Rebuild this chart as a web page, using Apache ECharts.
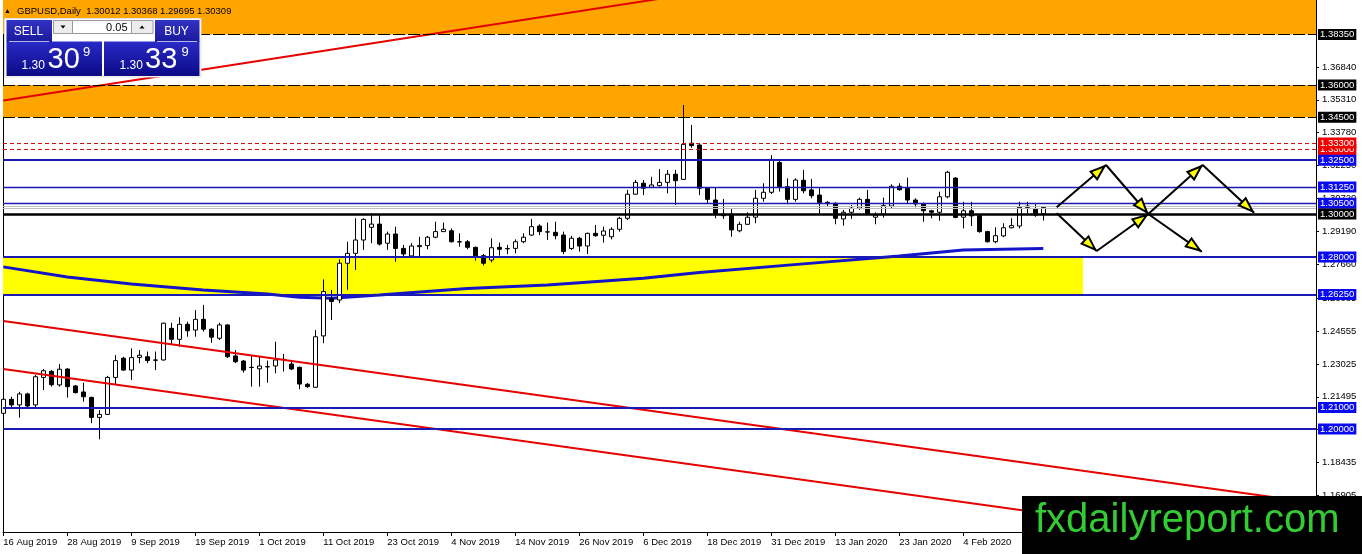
<!DOCTYPE html>
<html><head><meta charset="utf-8">
<script src="https://cdn.jsdelivr.net/npm/echarts@6/dist/echarts.min.js"></script>
<style>html,body{margin:0;padding:0;background:#fff;}#c{width:1362px;height:554px;}</style>
</head><body><div id="c"></div><script>
// ---- data ----
const symbolName = 'GBPUSD,Daily';
const opens = [1.2073,1.2138,1.2112,1.2163,1.2112,1.2240,1.2268,1.2205,1.2279,1.2200,
1.2172,1.2147,1.2054,1.2068,1.2240,1.2329,1.2274,1.2333,1.2336,1.2321,
1.2321,1.2468,1.2417,1.2487,1.2460,1.2510,1.2464,1.2422,1.2484,1.2340,
1.2316,1.2287,1.2280,1.2290,1.2293,1.2324,1.2302,1.2287,1.2208,1.2194,
1.2433,1.2605,1.2600,1.2771,1.2817,1.2879,1.2938,1.2953,1.2864,1.2907,
1.2840,1.2805,1.2848,1.2853,1.2892,1.2918,1.2922,1.2871,1.2871,1.2845,
1.2806,1.2786,1.2845,1.2839,1.2840,1.2871,1.2902,1.2944,1.2916,1.2915,
1.2902,1.2840,1.2887,1.2851,1.2910,1.2901,1.2894,1.2929,1.2980,1.3092,
1.3143,1.3124,1.3132,1.3147,1.3185,1.3161,1.3329,1.3321,1.3120,1.3065,
1.2999,1.2999,1.2922,1.2952,1.2985,1.3073,1.3101,1.3239,1.3127,1.3068,
1.3157,1.3112,1.3088,1.3054,1.3050,1.2977,1.3008,1.3027,1.3068,1.2985,
1.2999,1.3037,1.3129,1.3120,1.3065,1.3045,1.3015,1.3008,1.3080,1.3167,
1.2985,1.3015,1.2992,1.2918,1.2871,1.2898,1.2936,1.2944,1.3037,1.3022,
1.30012];
const highs = [1.2166,1.2150,1.2173,1.2169,1.2251,1.2279,1.2274,1.2302,1.2282,1.2205,
1.2215,1.2150,1.2088,1.2247,1.2344,1.2336,1.2375,1.2367,1.2360,1.2360,
1.2494,1.2494,1.2520,1.2499,1.2553,1.2577,1.2468,1.2494,1.2487,1.2367,
1.2321,1.2344,1.2336,1.2318,1.2406,1.2349,1.2313,1.2290,1.2214,1.2460,
1.2696,1.2647,1.2789,1.2871,1.2980,1.2980,1.3003,1.2995,1.2918,1.2941,
1.2856,1.2864,1.2894,1.2898,1.2964,1.2960,1.2933,1.2910,1.2879,1.2848,
1.2814,1.2887,1.2867,1.2856,1.2882,1.2910,1.2977,1.2952,1.2960,1.2964,
1.2918,1.2898,1.2894,1.2913,1.2949,1.2941,1.2938,1.2987,1.3112,1.3158,
1.3158,1.3173,1.3209,1.3205,1.3205,1.3507,1.3414,1.3324,1.3122,1.3122,
1.3070,1.3023,1.2964,1.3008,1.3112,1.3143,1.3274,1.3247,1.3166,1.3166,
1.3205,1.3163,1.3120,1.3060,1.3054,1.3019,1.3042,1.3076,1.3112,1.3008,
1.3076,1.3138,1.3143,1.3169,1.3073,1.3053,1.3019,1.3104,1.3201,1.3171,
1.3057,1.3057,1.2995,1.2922,1.2938,1.2957,1.2980,1.3057,1.3057,1.3045,
1.30368];
const lows = [1.2070,1.2096,1.2053,1.2101,1.2101,1.2181,1.2197,1.2197,1.2146,1.2166,
1.2127,1.2027,1.1952,1.2065,1.2205,1.2271,1.2228,1.2306,1.2306,1.2274,
1.2318,1.2391,1.2383,1.2429,1.2429,1.2453,1.2401,1.2414,1.2330,1.2306,
1.2262,1.2197,1.2197,1.2215,1.2259,1.2267,1.2274,1.2185,1.2191,1.2191,
1.2399,1.2507,1.2585,1.2647,1.2740,1.2833,1.2864,1.2853,1.2833,1.2778,
1.2801,1.2801,1.2801,1.2836,1.2887,1.2916,1.2867,1.2848,1.2836,1.2783,
1.2760,1.2775,1.2806,1.2813,1.2817,1.2864,1.2898,1.2902,1.2879,1.2882,
1.2813,1.2833,1.2825,1.2814,1.2894,1.2867,1.2882,1.2918,1.2972,1.3090,
1.3088,1.3120,1.3127,1.3096,1.3042,1.3158,1.3308,1.3088,1.3050,1.2980,
1.2977,1.2894,1.2915,1.2949,1.2957,1.3057,1.3093,1.3104,1.3045,1.3057,
1.3096,1.3073,1.2999,1.3034,1.2952,1.2946,1.2977,1.3019,1.2995,1.2952,
1.2983,1.3023,1.3108,1.3047,1.3031,1.2964,1.2980,1.2969,1.3073,1.2980,
1.2933,1.2944,1.2913,1.2867,1.2864,1.2892,1.2933,1.2933,1.3003,1.2987,
1.29695];
const closes = [1.2138,1.2112,1.2163,1.2107,1.2243,1.2271,1.2206,1.2278,1.2197,1.2169,
1.2150,1.2054,1.2068,1.2240,1.2318,1.2274,1.2332,1.2343,1.2318,1.2320,
1.2492,1.2417,1.2487,1.2457,1.2510,1.2464,1.2427,1.2484,1.2336,1.2313,
1.2274,1.2286,1.2293,1.2289,1.2321,1.2323,1.2279,1.2209,1.2197,1.2429,
1.2639,1.2593,1.2771,1.2817,1.2879,1.2975,1.2953,1.2860,1.2907,1.2840,
1.2814,1.2851,1.2853,1.2892,1.2918,1.2929,1.2871,1.2870,1.2845,1.2806,
1.2771,1.2843,1.2836,1.2838,1.2871,1.2892,1.2941,1.2918,1.2917,1.2899,
1.2825,1.2887,1.2851,1.2910,1.2899,1.2921,1.2929,1.2980,1.3092,1.3147,
1.3120,1.3135,1.3147,1.3185,1.3155,1.3324,1.3318,1.3120,1.3068,1.2999,
1.2992,1.2926,1.2952,1.2985,1.3073,1.3101,1.3254,1.3127,1.3068,1.3158,
1.3108,1.3085,1.3053,1.3048,1.2980,1.3008,1.3027,1.3068,1.2999,1.2995,
1.3039,1.3129,1.3113,1.3065,1.3047,1.3015,1.3008,1.3080,1.3194,1.2984,
1.3015,1.2991,1.2918,1.2871,1.2899,1.2936,1.2946,1.3031,1.3031,1.2995,
1.30309];
// moving average read at selected bars
const maIndex = [0,8,16,25,33,37,41,47,58,68,80,87,100,112,120,130];
const maValue = [1.2754,1.2707,1.2674,1.2647,1.2628,1.2613,1.2608,1.2623,1.2654,1.2670,1.2701,1.2728,1.2768,1.2805,1.2833,1.2839];
// x axis date labels (every 8th bar)
const xTickIdx = [0,8,16,24,32,40,48,56,64,72,80,88,96,104,112,120,128];
const xTickLabels = ['16 Aug 2019','28 Aug 2019','9 Sep 2019','19 Sep 2019','1 Oct 2019','11 Oct 2019','23 Oct 2019','4 Nov 2019','14 Nov 2019','26 Nov 2019','6 Dec 2019','18 Dec 2019','31 Dec 2019','13 Jan 2020','23 Jan 2020','4 Feb 2020','14 Feb 2020'];
// price axis tick labels
const yTickValues = [1.3684,1.3531,1.3378,1.3225,1.3072,1.2919,1.2766,1.26085,1.24555,1.23025,1.21495,1.19965,1.18435,1.16905];
// horizontal levels
const blackDashedLevels = [1.3835,1.3600,1.3450];
const redDottedLevels = [1.3300,1.3330];
const blueThickLevels = [1.3250,1.2800,1.2625,1.2100,1.2000];
const blueThinLevels = [1.3125,1.3050];
const blackLevel = 1.3000;
const bidLines = [1.3034,1.3027];
// zones
const orangeZones = [[1.3835,1.39953],[1.3450,1.3600]];
const yellowZone = [1.2625,1.2800];
const yellowZoneEndIdx = 134.96;
// trend lines [index, price]
const trendLines = [
  [[0,1.35279],[82,1.40009]],
  [[0,1.25021],[164,1.16563]],
  [[0,1.22789],[164,1.14330]]
];
// projected arrows [x0, p0, x1, p1]
const arrowSegments = [
  [131.675,1.30312,137.84,1.32279],
  [137.84,1.32279,143.125,1.30000],
  [143.125,1.30000,149.925,1.32279],
  [149.925,1.32279,156.34,1.30060],
  [131.675,1.30033,136.675,1.28279],
  [136.675,1.28279,143.125,1.30000],
  [143.125,1.30000,149.8,1.28247]
];

// ---- chart ----
const yMin = 1.15209, yMax = 1.39953;
const xMin = -0.0375, xMax = 164.0875;
const FONT = '"Liberation Sans", Arial, sans-serif';

const candleData = opens.map((o,i)=>[i,o,closes[i],lows[i],highs[i]]);
const maData = maIndex.map((x,k)=>[x,maValue[k]]);

function lvl(v, lineStyle, bg){
  const item = {yAxis:v, lineStyle:lineStyle};
  if (bg) item.label = {show:true, position:'end', distance:2, formatter:v.toFixed(5), color:'#fff',
    backgroundColor:bg, padding:[1,2,0,2], lineHeight:10, fontSize:9.5, fontFamily:FONT};
  else item.label = {show:false};
  return item;
}
const BLUE_LINE = '#1a1ab4', BLUE_BG = '#0a0af0';
const levelData = [];
bidLines.forEach(v=>levelData.push(lvl(v,{color:'#c0c0c0',width:1,type:'solid'},null)));
blackDashedLevels.forEach(v=>levelData.push(lvl(v,{color:'#000',width:1,type:[12,3]},'#000')));
redDottedLevels.forEach(v=>levelData.push(lvl(v,{color:'#d01010',width:1.2,type:[4,3]},'#ee0000')));
blueThinLevels.forEach(v=>levelData.push(lvl(v,{color:BLUE_LINE,width:1.3,type:'solid'},BLUE_BG)));
blueThickLevels.forEach(v=>levelData.push(lvl(v,{color:BLUE_LINE,width:2,type:'solid'},BLUE_BG)));
levelData.push(lvl(blackLevel,{color:'#000',width:2.5,type:'solid'},'#000'));

const series = [
  { name:'zones', type:'line', data:[], silent:true,
    markArea:{ silent:true, z:1,
      data:[
        [{yAxis:orangeZones[0][0], itemStyle:{color:'#ffa500'}},{yAxis:orangeZones[0][1]}],
        [{yAxis:orangeZones[1][0], itemStyle:{color:'#ffa500'}},{yAxis:orangeZones[1][1]}],
        [{yAxis:yellowZone[1], itemStyle:{color:'#ffff00'}},{xAxis:yellowZoneEndIdx, yAxis:yellowZone[0]}]
      ]}
  },
  { name:'MA', type:'line', data:maData, showSymbol:false, silent:true, z:2,
    lineStyle:{color:'#1414c8', width:3} },
  { name:'GBPUSD', type:'candlestick', data:candleData, z:3, silent:true,
    encode:{x:0, y:[1,2,3,4]}, barWidth:5,
    itemStyle:{color:'#fff', color0:'#000', borderColor:'#000', borderColor0:'#000', borderWidth:1} }
];
trendLines.forEach((tl,k)=>series.push({ name:'trend'+k, type:'line', data:tl, showSymbol:false, silent:true, z:4, clip:true,
  lineStyle:{color:'#e60000', width:2} }));
series.push({ name:'levels', type:'line', data:[], silent:true,
  markLine:{ silent:true, z:5, precision:5, symbol:['none','none'], animation:false, data:levelData } });
series.push({ name:'arrows', type:'custom', data:arrowSegments, z:6, silent:true,
  encode:{x:[0,2], y:[1,3]},
  renderItem:function(params, api){
    const a = api.coord([api.value(0), api.value(1)]);
    const b = api.coord([api.value(2), api.value(3)]);
    const dx=b[0]-a[0], dy=b[1]-a[1]; const len=Math.hypot(dx,dy)||1;
    const ux=dx/len, uy=dy/len, px=-uy, py=ux;
    const tip=[b[0]-ux*2, b[1]-uy*2];
    const base=[tip[0]-ux*14, tip[1]-uy*14];
    return {type:'group', children:[
      {type:'line', shape:{x1:a[0],y1:a[1],x2:b[0],y2:b[1]}, style:{stroke:'#000', lineWidth:2}},
      {type:'polygon', shape:{points:[tip,[base[0]+px*5,base[1]+py*5],[base[0]-px*5,base[1]-py*5]]},
        style:{fill:'#ffff00', stroke:'#000', lineWidth:2}}
    ]};
  }
});

function grad(c0,c1){ return {type:'linear',x:0,y:0,x2:0,y2:1,colorStops:[{offset:0,color:c0},{offset:1,color:c1}]}; }
const LBL = grad('#3232c4','#1a1a9c');
const PRC = grad('#2a2ac8','#0a0a86');
const last = opens.length-1;
const headerText = symbolName+'  '+[opens[last],highs[last],lows[last],closes[last]].map(v=>v.toFixed(5)).join(' ');

const graphic = [
  {type:'text', z:100, x:4, y:11, style:{text:'▲', fontSize:7, fill:'#000', verticalAlign:'middle', fontFamily:FONT}},
  {type:'text', z:100, x:17, y:11.5, style:{text:headerText, fontSize:9.5, fill:'#000', verticalAlign:'middle', fontFamily:FONT}},
  {type:'rect', z:100, shape:{x:4.5,y:18.5,width:196.5,height:58.5}, style:{fill:'#fff', stroke:'#e0e0e0'}},
  {type:'rect', z:101, shape:{x:6.5,y:20,width:45.5,height:22}, style:{fill:LBL}},
  {type:'rect', z:101, shape:{x:6.5,y:41.5,width:95.5,height:34.5}, style:{fill:PRC}},
  {type:'rect', z:101, shape:{x:155,y:20,width:44.5,height:22}, style:{fill:LBL}},
  {type:'rect', z:101, shape:{x:104,y:41.5,width:95.5,height:34.5}, style:{fill:PRC}},
  {type:'line', z:102, shape:{x1:9,y1:41.5,x2:49,y2:41.5}, style:{stroke:'#b8b8f0', lineWidth:1}},
  {type:'line', z:102, shape:{x1:157,y1:41.5,x2:197,y2:41.5}, style:{stroke:'#b8b8f0', lineWidth:1}},
  {type:'rect', z:101, shape:{x:53.5,y:20.5,width:19,height:13}, style:{fill:'#ececec', stroke:'#9a9a9a'}},
  {type:'polygon', z:102, shape:{points:[[60.5,25.5],[65.5,25.5],[63,28.5]]}, style:{fill:'#000'}},
  {type:'rect', z:101, shape:{x:72.5,y:20.5,width:59,height:13}, style:{fill:'#fff', stroke:'#9a9a9a'}},
  {type:'text', z:102, x:127.5, y:27.5, style:{text:'0.05', fontSize:11, fill:'#000', align:'right', verticalAlign:'middle', fontFamily:FONT}},
  {type:'rect', z:101, shape:{x:131.5,y:20.5,width:21.5,height:13}, style:{fill:'#ececec', stroke:'#9a9a9a'}},
  {type:'polygon', z:102, shape:{points:[[139.5,28.5],[144.5,28.5],[142,25.5]]}, style:{fill:'#000'}},
  {type:'text', z:102, x:28.5, y:31.5, style:{text:'SELL', fontSize:12, fill:'#fff', align:'center', verticalAlign:'middle', fontFamily:FONT}},
  {type:'text', z:102, x:176.5, y:31.5, style:{text:'BUY', fontSize:12, fill:'#fff', align:'center', verticalAlign:'middle', fontFamily:FONT}},
  {type:'text', z:102, x:21.5, y:66, style:{text:'1.30', fontSize:12, fill:'#fff', verticalAlign:'middle', fontFamily:FONT}},
  {type:'text', z:102, x:47.5, y:60, style:{text:'30', fontSize:29, fill:'#fff', verticalAlign:'middle', fontFamily:FONT}},
  {type:'text', z:102, x:83, y:52, style:{text:'9', fontSize:13, fill:'#fff', verticalAlign:'middle', fontFamily:FONT}},
  {type:'text', z:102, x:119.5, y:66, style:{text:'1.30', fontSize:12, fill:'#fff', verticalAlign:'middle', fontFamily:FONT}},
  {type:'text', z:102, x:145, y:60, style:{text:'33', fontSize:29, fill:'#fff', verticalAlign:'middle', fontFamily:FONT}},
  {type:'text', z:102, x:181.5, y:52, style:{text:'9', fontSize:13, fill:'#fff', verticalAlign:'middle', fontFamily:FONT}},
  {type:'rect', z:110, shape:{x:1022,y:496,width:340,height:58}, style:{fill:'#000'}},
  {type:'text', z:111, x:1035, y:521, style:{text:'fxdailyreport.com', fontSize:40, fill:'#33cc33', verticalAlign:'middle', fontFamily:FONT}}
];

const option = {
  animation:false,
  backgroundColor:'#fff',
  grid:{left:3, right:46, top:0, bottom:22},
  xAxis:{ type:'value', min:xMin, max:xMax, splitLine:{show:false},
    axisLine:{show:true, onZero:false, lineStyle:{color:'#000', width:1}},
    axisTick:{show:true, customValues:xTickIdx, length:4, lineStyle:{color:'#000'}},
    axisLabel:{show:true, customValues:xTickIdx, align:'left', margin:5, color:'#000', fontSize:9.5, fontFamily:FONT,
      formatter:function(v){ const k = xTickIdx.indexOf(Math.round(v)); return k>=0 ? xTickLabels[k] : ''; }}
  },
  yAxis:[
    { type:'value', position:'right', min:yMin, max:yMax, splitLine:{show:false},
      axisLine:{show:true, onZero:false, lineStyle:{color:'#000'}},
      axisTick:{show:true, customValues:yTickValues, length:3, lineStyle:{color:'#000'}},
      axisLabel:{show:true, customValues:yTickValues, margin:6, color:'#000', fontSize:9.5, fontFamily:FONT,
        formatter:function(v){ return v.toFixed(5); }}
    },
    { type:'value', position:'left', min:yMin, max:yMax, splitLine:{show:false},
      axisLine:{show:true, onZero:false, lineStyle:{color:'#000'}}, axisTick:{show:false}, axisLabel:{show:false} }
  ],
  series:series,
  graphic:graphic
};
const chart = echarts.init(document.getElementById('c'));
chart.setOption(option);
</script></body></html>
